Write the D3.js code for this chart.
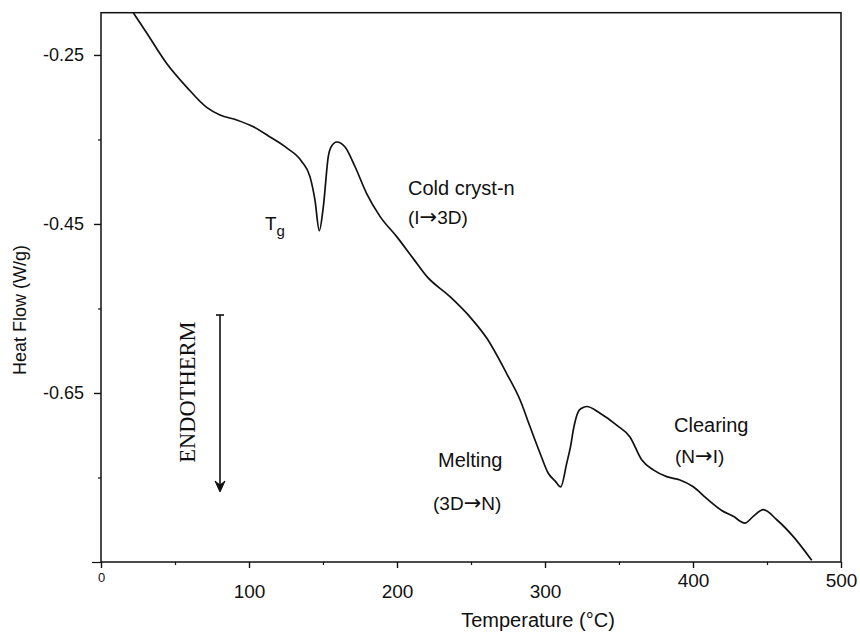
<!DOCTYPE html>
<html>
<head>
<meta charset="utf-8">
<script src="https://cdn.jsdelivr.net/npm/d3@7"></script>
<style>
  html, body { margin: 0; padding: 0; background: #fff; }
  svg { display: block; }
  text { font-family: "Liberation Sans", Arial, sans-serif; fill: #111; }
</style>
</head>
<body>
<svg id="chart" width="860" height="632"></svg>
<script>
// DSC heating trace: temperature (°C) and heat flow (W/g)
const temperature = [21.8, 30.9, 44.4, 57.9, 71.4, 80.4, 91.7, 102.9, 114.2, 125.5,
  135.6, 141.2, 144.6, 147.5, 150.2, 153.6, 155.4, 159.3, 164.9, 171.6,
  179.5, 188.5, 199.8, 211.0, 220.1, 235.8, 249.3, 260.6, 274.1, 283.1,
  289.9, 296.6, 302.2, 306.8, 310.6, 314.7, 317.4, 319.1, 322.5, 324.8,
  328.2, 337.2, 348.4, 357.4, 365.3, 373.2, 382.2, 391.2, 400.2, 409.3,
  419.4, 427.2, 435.1, 440.7, 447.5, 456.6, 467.8, 480.2];
const heatFlow = [-0.200, -0.224, -0.260, -0.288, -0.312, -0.321, -0.327, -0.335, -0.347, -0.360,
  -0.376, -0.394, -0.422, -0.458, -0.430, -0.370, -0.359, -0.353, -0.359, -0.382,
  -0.414, -0.441, -0.465, -0.491, -0.512, -0.536, -0.560, -0.585, -0.627, -0.658,
  -0.690, -0.721, -0.745, -0.754, -0.761, -0.733, -0.712, -0.694, -0.672, -0.668,
  -0.666, -0.674, -0.688, -0.702, -0.729, -0.741, -0.749, -0.753, -0.761, -0.775,
  -0.789, -0.796, -0.804, -0.796, -0.788, -0.800, -0.820, -0.848];

const xTicks = [0, 100, 200, 300, 400, 500];
const xMinorTicks = [50, 150, 250, 350, 450];
const yTicks = [-0.25, -0.45, -0.65];
const yMinorTicks = [-0.35, -0.55, -0.75];

// transition annotations: main label and the phase change in brackets
const transitions = [
  { name: "Cold cryst-n", from: "I", to: "3D" },
  { name: "Melting", from: "3D", to: "N" },
  { name: "Clearing", from: "N", to: "I" }
];

const svg = d3.select("#chart");
const x = d3.scaleLinear().domain([0, 500]).range([101, 841]);
const y = d3.scaleLinear().domain([-0.85, -0.20]).range([562, 12.7]);

// plot frame
svg.append("rect")
  .attr("x", x(0)).attr("y", y(-0.20))
  .attr("width", x(500) - x(0)).attr("height", y(-0.85) - y(-0.20))
  .attr("fill", "none").attr("stroke", "#111").attr("stroke-width", 1.5);

// x axis
const xAxis = svg.append("g").attr("transform", `translate(0,${y(-0.85)})`)
  .call(d3.axisBottom(x).tickValues(xTicks).tickSize(6).tickFormat(d3.format("d")));
xAxis.select(".domain").remove();
xAxis.selectAll(".tick line").attr("stroke", "#111").attr("stroke-width", 1.4);
xAxis.selectAll(".tick text")
  .attr("font-size", d => d === 0 ? 13 : 19)
  .attr("dy", null)
  .attr("y", d => d === 0 ? 20 : (d >= 400 ? 25 : 36));

svg.append("g").attr("transform", `translate(0,${y(-0.85)})`)
  .call(d3.axisBottom(x).tickValues(xMinorTicks).tickSize(3).tickFormat(""))
  .call(g => g.select(".domain").remove())
  .selectAll(".tick line").attr("stroke", "#111").attr("stroke-width", 1.2);

// y axis (plain hyphen for the sign)
const yAxis = svg.append("g").attr("transform", `translate(${x(0)},0)`)
  .call(d3.axisLeft(y).tickValues(yTicks).tickSize(7).tickPadding(10).tickFormat(d => d.toFixed(2)));
yAxis.select(".domain").remove();
yAxis.selectAll(".tick line").attr("stroke", "#111").attr("stroke-width", 1.4);
yAxis.selectAll(".tick text").attr("font-size", 18);

svg.append("g").attr("transform", `translate(${x(0)},0)`)
  .call(d3.axisLeft(y).tickValues(yMinorTicks.concat([-0.85])).tickSize(3).tickFormat(""))
  .call(g => g.select(".domain").remove())
  .selectAll(".tick line")
  .attr("stroke", "#111").attr("stroke-width", 1.2)
  .attr("x2", d => d === -0.85 ? -9 : -3);

// axis titles
svg.append("text")
  .attr("x", 538).attr("y", 627)
  .attr("text-anchor", "middle").attr("font-size", 20)
  .text("Temperature (°C)");

svg.append("text")
  .attr("transform", "translate(26,310) rotate(-90)")
  .attr("text-anchor", "middle").attr("font-size", 18)
  .text("Heat Flow (W/g)");

// heat-flow curve
const pts = temperature.map((t, i) => [t, heatFlow[i]]);
svg.append("path")
  .datum(pts)
  .attr("fill", "none").attr("stroke", "#111").attr("stroke-width", 1.7)
  .attr("stroke-linejoin", "round")
  .attr("d", d3.line().x(d => x(d[0])).y(d => y(d[1])).curve(d3.curveMonotoneX));

// glass transition label
const tg = svg.append("text").attr("x", 265).attr("y", 230).attr("font-size", 19);
tg.append("tspan").text("T");
tg.append("tspan").attr("font-size", 15).attr("dy", 6).text("g");

// transition labels
const labelPos = [
  { nx: 408, ny: 195, px: 408, py: 224 },
  { nx: 438, ny: 467, px: 433, py: 510 },
  { nx: 674, ny: 432, px: 675, py: 463 }
];
transitions.forEach((t, i) => {
  const p = labelPos[i];
  svg.append("text").attr("x", p.nx).attr("y", p.ny).attr("font-size", 20).text(t.name);
  const sub = svg.append("text").attr("x", p.px).attr("y", p.py).attr("font-size", 19);
  sub.append("tspan").text("(" + t.from);
  sub.append("tspan").style("font-family", "'DejaVu Sans', sans-serif").attr("font-size", 21).text("\u2192");
  sub.append("tspan").text(t.to + ")");
});

// endotherm direction marker
svg.append("text")
  .attr("transform", "translate(195,392) rotate(-90)")
  .attr("text-anchor", "middle")
  .style("font-family", "'Liberation Serif', 'Times New Roman', serif")
  .attr("font-size", 22.5)
  .text("ENDOTHERM");

const arrowX = 220;
svg.append("line")
  .attr("x1", arrowX).attr("x2", arrowX).attr("y1", 315).attr("y2", 490)
  .attr("stroke", "#111").attr("stroke-width", 1.6);
svg.append("line")
  .attr("x1", arrowX - 4).attr("x2", arrowX + 4).attr("y1", 315).attr("y2", 315)
  .attr("stroke", "#111").attr("stroke-width", 1.6);
svg.append("path")
  .attr("d", `M${arrowX - 5},481 L${arrowX},492 L${arrowX + 5},481 L${arrowX},485 Z`)
  .attr("fill", "#111").attr("stroke", "#111").attr("stroke-width", 1);
</script>
</body>
</html>
